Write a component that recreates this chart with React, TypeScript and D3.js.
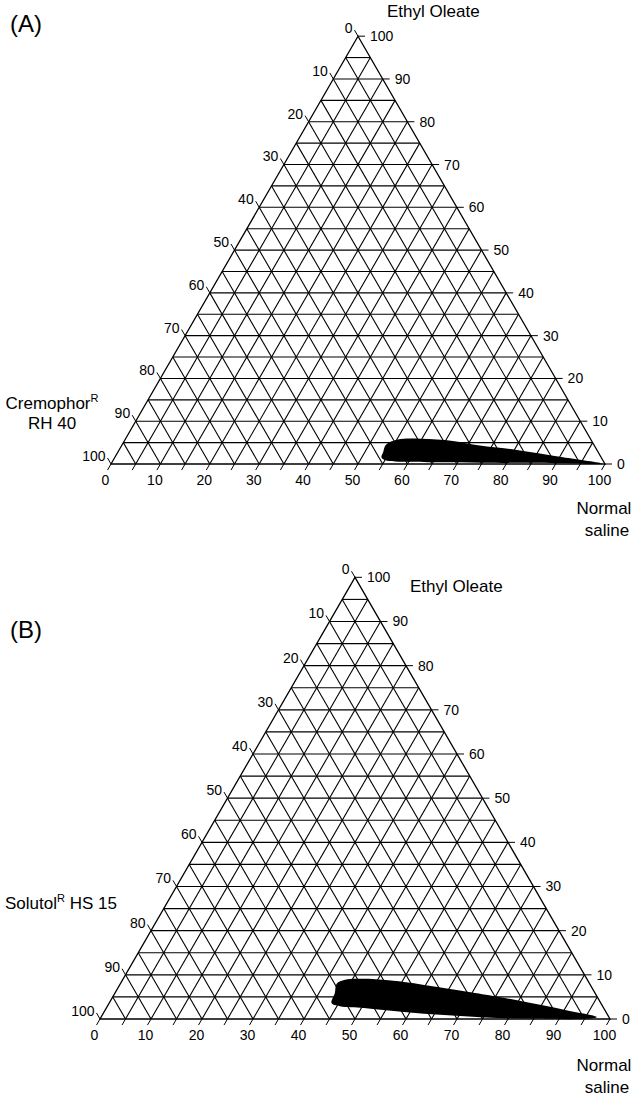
import React, { useEffect, useRef } from "react";
import * as d3 from "d3";

// tick labels on each side, percent
const tickLabels = [0, 10, 20, 30, 40, 50, 60, 70, 80, 90, 100];
// grid every 5 %
const gridLevels = [5, 10, 15, 20, 25, 30, 35, 40, 45, 50, 55, 60, 65, 70, 75, 80, 85, 90, 95];
// small ticks under the base
const baseTicks = [0, 5, 10, 15, 20, 25, 30, 35, 40, 45, 50, 55, 60, 65, 70, 75, 80, 85, 90, 95, 100];

// microemulsion region outline, [normal saline %, ethyl oleate %]
const regionCremophor = [
  [53.7, 2.8], [53.4, 4.5], [55.2, 5.7], [59.8, 5.9], [66.5, 5.4], [72.5, 4.3],
  [80.5, 3.3], [90.7, 1.6], [99.4, 0.1], [90, 0.2], [75, 0.3], [65, 0.4],
  [58, 0.5], [55.3, 0.8], [54, 1.5]
];
const regionSolutol = [
  [43.1, 5.9], [42.4, 8.0], [43.6, 8.9], [47.2, 9.1], [55.4, 8.4], [63.9, 7.0],
  [70.6, 5.9], [77, 4.75], [90.4, 2.0], [97.2, 0.45], [96, 0.1], [83.3, 0.1],
  [75.3, 0.35], [67, 0.9], [58.8, 1.6], [50.5, 2.5], [45.6, 2.9], [43.6, 3.6]
];

const FONT = "'Liberation Sans', Arial, Helvetica, sans-serif";

const panels = [
  {
    tag: "(A)", tagX: 10, tagY: 32,
    left: 111, right: 605, base: 464,
    region: regionCremophor,
    top: "Ethyl Oleate", topX: 387, topY: 17,
    surf: ["Cremophor", "RH 40"], surfX: 52, surfY: 409,
    saline: 604, salineY: 514
  },
  {
    tag: "(B)", tagX: 10, tagY: 638,
    left: 100, right: 610, base: 1019,
    region: regionSolutol,
    top: "Ethyl Oleate", topX: 410, topY: 592,
    surf: ["Solutol", " HS 15"], surfX: 5, surfY: 909,
    saline: 604, salineY: 1071
  }
];

function drawPanel(svg, p) {
  const side = p.right - p.left;
  const x = d3.scaleLinear().domain([0, 100]).range([p.left, p.right]);
  const y = d3.scaleLinear().domain([0, 100]).range([p.base, p.base - side * Math.sqrt(3) / 2]);
  const pt = (s, e) => [x(s + e / 2), y(e)];
  const line = d3.line();
  const g = svg.append("g");

  const segs = [];
  gridLevels.forEach(v => {
    segs.push([pt(0, v), pt(100 - v, v)]);
    segs.push([pt(v, 0), pt(v, 100 - v)]);
    segs.push([pt(100 - v, 0), pt(0, 100 - v)]);
  });
  g.selectAll("path.grid").data(segs).join("path")
    .attr("class", "grid")
    .attr("d", d => line(d))
    .attr("stroke", "#000").attr("stroke-width", 1.1).attr("fill", "none");

  g.append("path")
    .attr("d", line([pt(0, 0), pt(100, 0), pt(0, 100)]) + "Z")
    .attr("stroke", "#000").attr("stroke-width", 1.3).attr("fill", "none");

  g.append("path")
    .datum(p.region.map(d => pt(d[0], d[1])))
    .attr("d", d3.line().curve(d3.curveCatmullRomClosed.alpha(0.5)))
    .attr("fill", "#000");

  const L = 7, cx = 0.5, sy = Math.sqrt(3) / 2;
  const ticks = [];
  baseTicks.forEach(v => {
    const [px, py] = pt(v, 0);
    ticks.push([[px, py], [px - L * cx, py + L * sy]]);
  });
  tickLabels.forEach(v => {
    const [px, py] = pt(100 - v, v);
    ticks.push([[px, py], [px + L, py]]);
    const [qx, qy] = pt(0, 100 - v);
    ticks.push([[qx, qy], [qx - L * cx, qy - L * sy]]);
  });
  g.selectAll("path.tick").data(ticks).join("path")
    .attr("class", "tick")
    .attr("d", d => line(d))
    .attr("stroke", "#000").attr("stroke-width", 1).attr("fill", "none");

  const lab = g.append("g").attr("font-family", FONT).attr("font-size", 14).attr("fill", "#000");
  tickLabels.forEach(v => {
    const [bx, by] = pt(v, 0);
    lab.append("text").attr("x", bx - L * cx - 2).attr("y", by + L * sy + 15)
      .attr("text-anchor", "middle").text(v);
    const [rx, ry] = pt(100 - v, v);
    lab.append("text").attr("x", rx + L + 5).attr("y", ry + 5)
      .attr("text-anchor", "start").text(v);
    const [lx, ly] = pt(0, 100 - v);
    lab.append("text").attr("x", lx - L * cx - 2).attr("y", ly - L * sy + 3)
      .attr("text-anchor", "end").text(v);
  });

  const t = g.append("g").attr("font-family", FONT).attr("fill", "#000");
  t.append("text").attr("x", p.tagX).attr("y", p.tagY).attr("font-size", 24).text(p.tag);
  t.append("text").attr("x", p.topX).attr("y", p.topY).attr("font-size", 17).text(p.top);

  if (p.tag === "(A)") {
    const s1 = t.append("text").attr("x", p.surfX).attr("y", p.surfY)
      .attr("font-size", 17).attr("text-anchor", "middle");
    s1.append("tspan").text(p.surf[0]);
    s1.append("tspan").attr("font-size", 11).attr("dy", -7).text("R");
    t.append("text").attr("x", p.surfX).attr("y", p.surfY + 20)
      .attr("font-size", 17).attr("text-anchor", "middle").text(p.surf[1]);
  } else {
    const s1 = t.append("text").attr("x", p.surfX).attr("y", p.surfY).attr("font-size", 17);
    s1.append("tspan").text(p.surf[0]);
    s1.append("tspan").attr("font-size", 11).attr("dy", -7).text("R");
    s1.append("tspan").attr("dy", 7).text(p.surf[1]);
  }

  t.append("text").attr("x", p.saline).attr("y", p.salineY)
    .attr("font-size", 17).attr("text-anchor", "middle").text("Normal");
  t.append("text").attr("x", p.saline + 3).attr("y", p.salineY + 22)
    .attr("font-size", 17).attr("text-anchor", "middle").text("saline");
}

export default function App() {
  const ref = useRef(null);
  useEffect(() => {
    const svg = d3.select(ref.current);
    svg.selectAll("*").remove();
    panels.forEach(p => drawPanel(svg, p));
  }, []);
  return (
    <svg ref={ref} width={634} height={1102}
      style={{ position: "absolute", left: 0, top: 0, background: "#fff" }} />
  );
}
